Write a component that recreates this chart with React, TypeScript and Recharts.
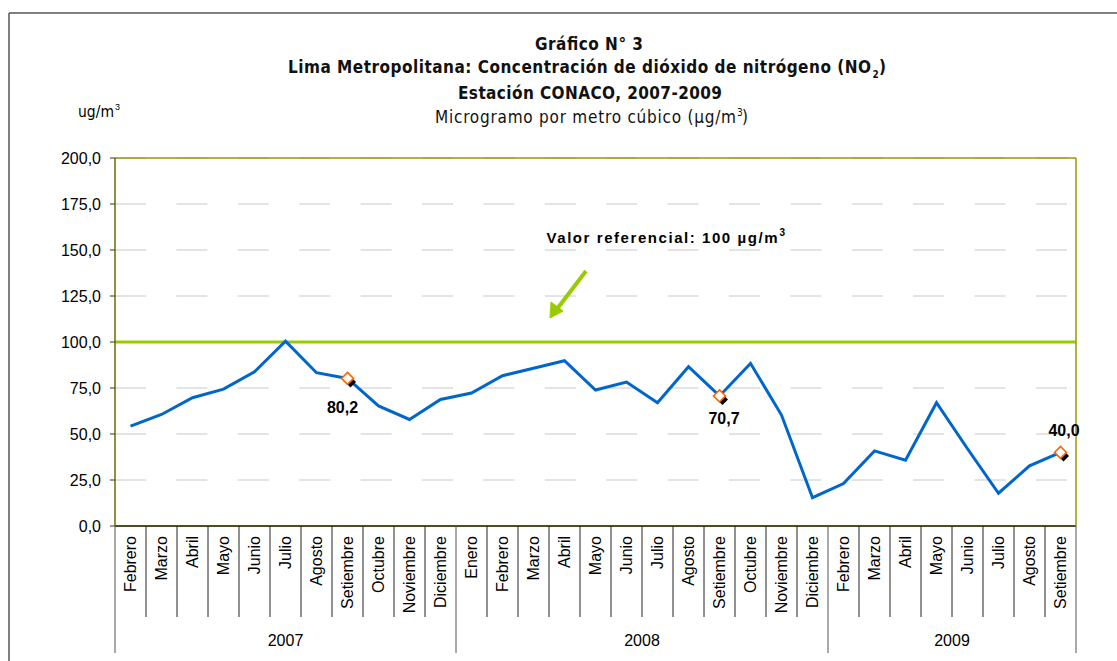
import React from 'react'
import { LineChart, Line, XAxis, YAxis, CartesianGrid, ReferenceLine } from 'recharts'

// monthly NO2 concentration, Estación CONACO
const MONTHS = [
  'Febrero', 'Marzo', 'Abril', 'Mayo', 'Junio', 'Julio', 'Agosto', 'Setiembre', 'Octubre', 'Noviembre', 'Diciembre',
  'Enero', 'Febrero', 'Marzo', 'Abril', 'Mayo', 'Junio', 'Julio', 'Agosto', 'Setiembre', 'Octubre', 'Noviembre', 'Diciembre',
  'Febrero', 'Marzo', 'Abril', 'Mayo', 'Junio', 'Julio', 'Agosto', 'Setiembre',
]
const YEARS = [
  '2007', '2007', '2007', '2007', '2007', '2007', '2007', '2007', '2007', '2007', '2007',
  '2008', '2008', '2008', '2008', '2008', '2008', '2008', '2008', '2008', '2008', '2008', '2008',
  '2009', '2009', '2009', '2009', '2009', '2009', '2009', '2009',
]
const NO2 = [
  54.3, 60.6, 69.7, 74.4, 83.8, 100.5, 83.3, 80.2, 65.3, 57.9, 68.8,
  72.3, 81.7, 85.7, 89.8, 73.9, 78.2, 67.0, 86.6, 70.7, 88.4, 60.3, 15.4,
  23.1, 40.8, 35.8, 67.0, 42.0, 17.8, 32.7, 40.0,
]
const Y_TICKS = [0, 25, 50, 75, 100, 125, 150, 175, 200]
const REFERENCE_VALUE = 100
const HIGHLIGHT = [7, 19, 30]

// label offsets for the highlighted points (styling only)
const LABEL_OFFSET: Record<number, [number, number]> = {
  7: [-5, 29],
  19: [4.5, 23],
  30: [3.5, -22],
}

const data = MONTHS.map((m, i) => ({ key: `${m} ${YEARS[i]}`, value: NO2[i] }))

const W = 1117
const H = 661
const PLOT_LEFT = 115
const PLOT_RIGHT = 1076
const BAND = (PLOT_RIGHT - PLOT_LEFT) / MONTHS.length
const ARIAL = '"Liberation Sans", Arial, sans-serif'
const NARROW = '"Liberation Sans Narrow", "Arial Narrow", "DejaVu Sans Condensed", sans-serif'

const fmt = (v: number) => v.toFixed(1).replace('.', ',')

function MonthTick(props: any) {
  const { x, y } = props
  const i: number = props.index ?? props.payload?.index ?? 0
  const left = x - BAND / 2
  const right = x + BAND / 2
  const isYearStart = i === 0 || YEARS[i] !== YEARS[i - 1]
  const isLast = i === MONTHS.length - 1
  let yearLabel = null
  if (isYearStart) {
    let n = 0
    while (YEARS[i + n] === YEARS[i]) n++
    yearLabel = (
      <text x={left + (n * BAND) / 2} y={y + 120} textAnchor="middle" fontSize={16} fontFamily={ARIAL} fill="#000">
        {YEARS[i]}
      </text>
    )
  }
  return (
    <g>
      <line x1={left} x2={left} y1={y} y2={y + (isYearStart ? 127 : 91)} stroke={isYearStart ? '#555' : '#222'} strokeWidth={1} />
      {isLast && <line x1={right} x2={right} y1={y} y2={y + 127} stroke="#555" strokeWidth={1} />}
      <text
        x={x + 5.5}
        y={y + 10}
        transform={`rotate(-90 ${x + 5.5} ${y + 10})`}
        textAnchor="end"
        fontSize={16}
        fontFamily={ARIAL}
        fill="#000"
      >
        {MONTHS[i]}
      </text>
      {yearLabel}
    </g>
  )
}

function Marker(props: any) {
  const { cx, cy, index } = props
  if (!HIGHLIGHT.includes(index) || cx == null) return <g key={`d${index}`} />
  const d = (px: number, py: number, r: number) => `M${px},${py - r} L${px + r},${py} L${px},${py + r} L${px - r},${py} Z`
  return (
    <g key={`d${index}`}>
      <path d={d(cx + 3, cy + 3.5, 5.5)} fill="#000" />
      <path d={d(cx, cy, 6)} fill="#fff" stroke="#ff6600" strokeWidth={1.6} />
    </g>
  )
}

function PointLabel(props: any) {
  const { x, y, value, index } = props
  const off = LABEL_OFFSET[index]
  if (!off) return null
  return (
    <text
      x={x + off[0]}
      y={y + off[1]}
      textAnchor="middle"
      dominantBaseline="central"
      fontSize={16}
      fontWeight="bold"
      fontFamily={ARIAL}
      fill="#000"
    >
      {fmt(value)}
    </text>
  )
}

export default function App() {
  return (
    <div style={{ position: 'absolute', left: 0, top: 0, width: W, height: H, background: '#fff' }}>
      <LineChart width={W} height={H} data={data} margin={{ top: 158, right: W - PLOT_RIGHT - 2, bottom: 0, left: PLOT_LEFT - 70 }}>
        <CartesianGrid vertical={false} stroke="#c8c8c8" strokeDasharray="31 30.4" />
        <XAxis
          dataKey="key"
          scale="band"
          interval={0}
          height={135}
          tickSize={0}
          tickMargin={0}
          tickLine={false}
          axisLine={{ stroke: '#4d4d1f', strokeWidth: 2 }}
          tick={<MonthTick />}
        />
        <YAxis
          domain={[0, 200]}
          ticks={Y_TICKS}
          width={70}
          tickSize={5}
          tickMargin={9}
          tickFormatter={fmt}
          tick={{ fontSize: 16, fontFamily: ARIAL, fill: '#000' }}
          tickLine={{ stroke: '#333' }}
          axisLine={{ stroke: '#6b6b00', strokeWidth: 1.5 }}
        />
        <YAxis
          yAxisId="frame"
          orientation="right"
          domain={[0, 200]}
          width={2}
          tick={false}
          tickLine={false}
          axisLine={{ stroke: '#999900', strokeWidth: 1.5 }}
        />
        <ReferenceLine y={200} stroke="#999900" strokeWidth={1.5} />
        <ReferenceLine y={REFERENCE_VALUE} stroke="#99cc00" strokeWidth={3} />
        <Line
          type="linear"
          dataKey="value"
          stroke="#0066cc"
          strokeWidth={3}
          dot={<Marker />}
          activeDot={false}
          label={<PointLabel />}
          isAnimationActive={false}
        />
      </LineChart>

      <svg width={W} height={H} style={{ position: 'absolute', left: 0, top: 0, pointerEvents: 'none' }}>
        {/* outer frame */}
        <line x1={9} y1={13} x2={W} y2={13} stroke="#555" strokeWidth={1.5} />
        <line x1={9} y1={13} x2={9} y2={H} stroke="#555" strokeWidth={1.5} />

        {/* titles */}
        <g fontFamily={NARROW} fill="#111" fontSize={17}>
          <text x={535} y={50} fontWeight="bold" textLength={108} lengthAdjust="spacing">Gráfico N° 3</text>
          <text x={288} y={73} fontWeight="bold" textLength={583} lengthAdjust="spacing">
            Lima Metropolitana: Concentración de dióxido de nitrógeno (NO
          </text>
          <text x={872.5} y={78} fontWeight="bold" fontSize={10}>2</text>
          <text x={879} y={73} fontWeight="bold">)</text>
          <text x={458} y={99} fontWeight="bold" textLength={264} lengthAdjust="spacing">Estación CONACO, 2007-2009</text>
          <text x={435} y={123} textLength={301} lengthAdjust="spacing">Microgramo por metro cúbico (µg/m</text>
          <text x={737} y={116} fontSize={10}>3</text>
          <text x={742} y={123}>)</text>
        </g>

        {/* unit label */}
        <text x={78} y={117} fontFamily={NARROW} fontSize={15} fill="#000" textLength={36} lengthAdjust="spacingAndGlyphs">ug/m</text>
        <text x={115} y={110} fontFamily={ARIAL} fontSize={9} fill="#000">3</text>

        {/* reference value annotation */}
        <text x={546.5} y={243} fontFamily={ARIAL} fontSize={15} fontWeight="bold" fill="#000" textLength={231} lengthAdjust="spacing">
          Valor referencial: 100 µg/m
        </text>
        <text x={779.5} y={236} fontFamily={ARIAL} fontSize={10} fontWeight="bold" fill="#000">3</text>
        <line x1={586} y1={271} x2={557} y2={309} stroke="#99cc00" strokeWidth={4} />
        <path d="M550,318 L551,302 L563,311 Z" fill="#99cc00" stroke="#99cc00" strokeWidth={1} />
      </svg>
    </div>
  )
}
